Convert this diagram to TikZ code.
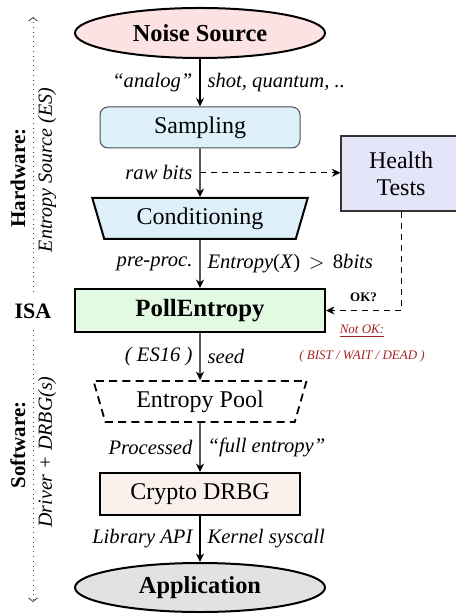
\documentclass[tikz,border=0pt]{standalone}
\usepackage{fontspec}
\setmainfont{Liberation Serif}
\usetikzlibrary{shapes.geometric,arrows.meta}
\definecolor{noisefill}{RGB}{252,226,226}
\definecolor{sampfill}{RGB}{222,241,250}
\definecolor{pollfill}{RGB}{226,250,226}
\definecolor{healthfill}{RGB}{229,229,250}
\definecolor{drbgfill}{RGB}{250,241,236}
\definecolor{appfill}{RGB}{226,226,226}
\definecolor{alertred}{RGB}{165,35,35}
\tikzset{
  nodefont/.style={font=\fontsize{12}{14}\selectfont},
  lbl/.style={font=\fontsize{10.3}{12}\selectfont\itshape, inner sep=3.5pt},
  flow/.style={line width=0.6pt, -{Stealth[length=4.2pt,width=4pt,inset=1.3pt]}},
  ctl/.style={line width=0.5pt, dash pattern=on 3pt off 2.5pt, -{Stealth[length=4.2pt,width=4pt,inset=1.3pt]}},
  thickbox/.style={draw, line width=1pt, nodefont, inner sep=0pt},
  trap/.style={trapezium, trapezium angle=70, shape border rotate=180, trapezium stretches=true},
  sidebold/.style={font=\fontsize{10.5}{12}\selectfont\bfseries, rotate=90},
  sideit/.style={font=\fontsize{10}{12}\selectfont\itshape, rotate=90},
  axis/.style={dotted, line width=0.4pt, black!75, -{Straight Barb[length=1.8pt,width=4.5pt]}},
  alert/.style={text=alertred, font=\fontsize{6.5}{8}\selectfont\itshape}
}
\begin{document}
\begin{tikzpicture}[x=0.5pt,y=-0.5pt]
\useasboundingbox (0,0) rectangle (455,613);

% main nodes
\node[thickbox, ellipse, fill=noisefill, minimum width=125pt, minimum height=25pt, font=\fontsize{12.2}{14}\selectfont\bfseries] (noise) at (200,33) {Noise Source};
\node[draw=black!70, line width=0.5pt, rounded corners=4pt, fill=sampfill, minimum width=100pt, minimum height=20.5pt, inner sep=0pt, nodefont] (samp) at (200,127.5) {Sampling};
\node[thickbox, trap, fill=sampfill, minimum width=108pt, minimum height=20.5pt] (cond) at (200,218.5) {Conditioning};
\node[thickbox, fill=pollfill, minimum width=125pt, minimum height=21.5pt, font=\fontsize{12.4}{14}\selectfont\bfseries] (poll) at (200,310.5) {PollEntropy};
\node[draw, line width=0.9pt, dash pattern=on 4pt off 2.6pt, trap, minimum width=107pt, minimum height=20.5pt, inner sep=0pt, nodefont] (pool) at (200,401.5) {Entropy Pool};
\node[thickbox, fill=drbgfill, minimum width=100pt, minimum height=21pt] (drbg) at (200,494) {Crypto DRBG};
\node[thickbox, ellipse, fill=appfill, minimum width=125pt, minimum height=24.5pt, font=\fontsize{12.2}{14}\selectfont\bfseries] (app) at (200,587.5) {Application};
\node[draw=black!80, line width=0.6pt, fill=healthfill, minimum width=60pt, minimum height=37.5pt, align=center, inner sep=0pt, font=\fontsize{12}{13.5}\selectfont] (health) at (401,173.5) {Health\\Tests};

% flow arrows with labels
\draw[flow] (noise) -- (samp)
  node[midway, left, lbl] {``analog''}
  node[midway, right, lbl] {shot, quantum, ..};
\draw[flow] (samp) -- coordinate[midway] (rawpt) (cond.north)
  node[midway, left, lbl] {raw bits};
\draw[flow] (cond.south) -- (poll)
  node[midway, left, lbl] {pre-proc.}
  node[midway, right, lbl] {Entropy\textup{(}X\textup{)}\,~$>$~\,\textup{8}bits};
\draw[flow] (poll) -- (pool.north)
  node[midway, left, lbl] {( ES16 )}
  node[midway, right, lbl] {seed};
\draw[flow] (pool.south) -- (drbg)
  node[midway, left, lbl] {Processed}
  node[midway, right, lbl] {``full entropy''};
\draw[flow] (drbg) -- (app)
  node[midway, left, lbl] {Library API}
  node[midway, right, lbl] {Kernel syscall};

% health test connections
\draw[ctl] (rawpt) -- (rawpt -| health.west);
\draw[ctl] (health.south) |- (poll.east)
  node[pos=0.75, above, inner sep=4pt, font=\fontsize{6.5}{8}\selectfont\bfseries] (ok) {OK?};
\node[alert] (notok) at (362,331) {\underline{Not OK:}};
\node[alert] (bist) at (362,356) {( BIST / WAIT / DEAD )};

% left side axis
\node[font=\fontsize{11}{13}\selectfont\bfseries, minimum height=19pt, inner sep=0pt] (isa) at (33,311) {ISA};
\coordinate (ltop) at (33,17);
\coordinate (lbot) at (33,602);
\draw[axis] (isa.north) -- (ltop);
\draw[axis] (isa.south) -- (lbot);
\node[sidebold] (hw) at (18,178) {Hardware:};
\node[sideit] (es) at (47,170) {Entropy Source (ES)};
\node[sidebold] (sw) at (18,445) {Software:};
\node[sideit] (drv) at (47,452) {Driver + DRBG(s)};
\end{tikzpicture}
\end{document}
